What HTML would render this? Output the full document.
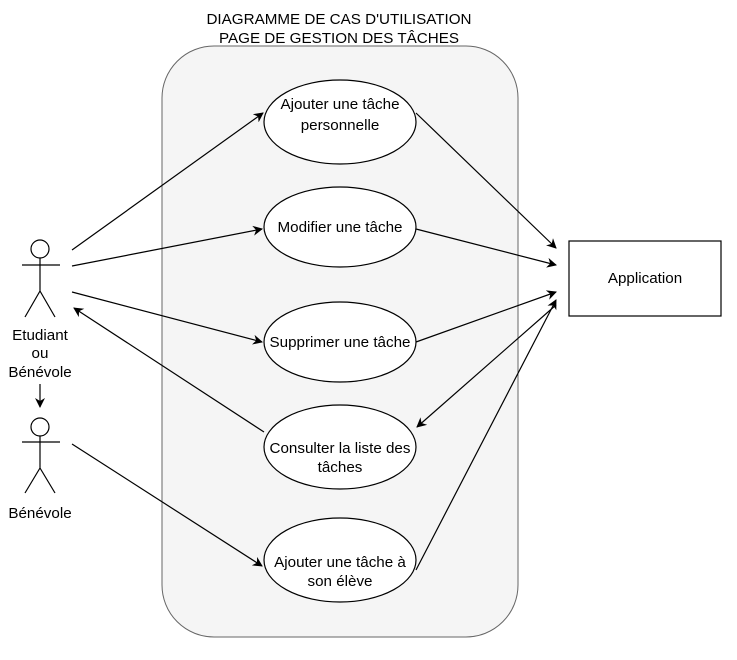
<!DOCTYPE html>
<html><head><style>body{margin:0;background:#fff}</style></head><body>
<svg width="737" height="655" viewBox="0 0 737 655" xmlns="http://www.w3.org/2000/svg" font-family="Liberation Sans, sans-serif" font-size="15.2">
<defs><marker id="a" markerWidth="10" markerHeight="10" refX="9" refY="5" orient="auto" markerUnits="userSpaceOnUse"><path d="M0,0 L10,5 L0,10 L3,5 Z" fill="#000"/></marker></defs>
<text x="339" y="24" text-anchor="middle">DIAGRAMME DE CAS D'UTILISATION</text>
<text x="339" y="43" text-anchor="middle">PAGE DE GESTION DES TÂCHES</text>
<rect x="162" y="46" width="356" height="591" rx="52" fill="#f5f5f5" stroke="#666"/>
<g fill="#fff" stroke="#000" stroke-width="1.2">
<ellipse cx="340" cy="122" rx="76" ry="42"/>
<ellipse cx="340" cy="227" rx="76" ry="40"/>
<ellipse cx="340" cy="342" rx="76" ry="40"/>
<ellipse cx="340" cy="447" rx="76" ry="42"/>
<ellipse cx="340" cy="560" rx="76" ry="42"/>
<rect x="569" y="241" width="152" height="75"/>
</g>
<g text-anchor="middle">
<text x="340" y="109">Ajouter une tâche</text><text x="340" y="130">personnelle</text>
<text x="340" y="232">Modifier une tâche</text>
<text x="340" y="347">Supprimer une tâche</text>
<text x="340" y="453">Consulter la liste des</text><text x="340" y="472">tâches</text>
<text x="340" y="567">Ajouter une tâche à</text><text x="340" y="586">son élève</text>
<text x="645" y="283">Application</text>
<text x="40" y="340">Etudiant</text><text x="40" y="358">ou</text><text x="40" y="377">Bénévole</text>
<text x="40" y="518">Bénévole</text>
</g>
<g stroke="#000" stroke-width="1.2" fill="none">
<circle cx="40" cy="249" r="9" fill="#fff"/>
<path d="M40 258V291M22 265H60M40 291L25 317M40 291L55 317"/>
<circle cx="40" cy="427" r="9" fill="#fff"/>
<path d="M40 436V468M22 442H60M40 468L25 493M40 468L55 493"/>
<g marker-end="url(#a)">
<path d="M40 384V407"/>
<path d="M72 250L263 113"/>
<path d="M72 266L262 229"/>
<path d="M72 292L262 342"/>
<path d="M264 432L74 308"/>
<path d="M72 444L262 566"/>
<path d="M416 113L556 248"/>
<path d="M416 229L556 265"/>
<path d="M416 342L556 292"/>
<path d="M556 305L417 427"/>
<path d="M416 570L556 300"/>
</g></g>
</svg>
</body></html>
